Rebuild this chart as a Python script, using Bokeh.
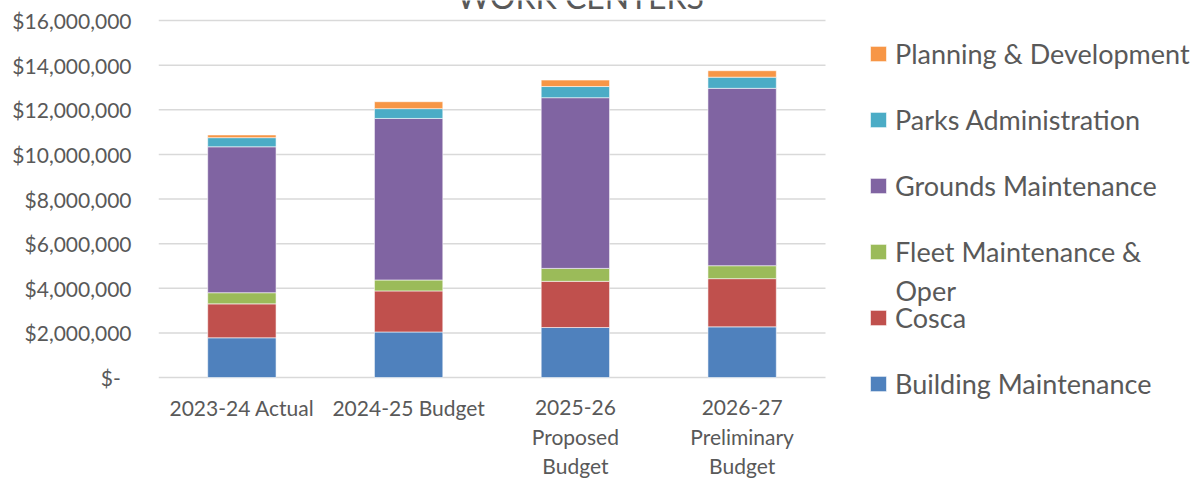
from bokeh.plotting import figure
from bokeh.models import (Range1d, FixedTicker, NumeralTickFormatter, Label,
                          Legend, LegendItem, ColumnDataSource)
from bokeh.embed import file_html
from bokeh.resources import INLINE

# ---------------- data ----------------
categories = ["2023-24 Actual", "2024-25 Budget",
              "2025-26 Proposed Budget", "2026-27 Preliminary Budget"]
category_lines = [["2023-24 Actual"], ["2024-25 Budget"],
                  ["2025-26", "Proposed", "Budget"],
                  ["2026-27", "Preliminary", "Budget"]]
series_names = ["Building Maintenance", "Cosca", "Fleet Maintenance & Oper",
                "Grounds Maintenance", "Parks Administration",
                "Planning & Development"]
building = [1780000, 2040000, 2240000, 2270000]
cosca = [1520000, 1840000, 2070000, 2160000]
fleet = [500000, 490000, 580000, 580000]
grounds = [6540000, 7240000, 7650000, 7950000]
parks = [410000, 440000, 500000, 500000]
planning = [120000, 310000, 290000, 290000]
y_ticks = [0, 2000000, 4000000, 6000000, 8000000, 10000000,
           12000000, 14000000, 16000000]
title_text = "WORK CENTERS"

# ---------------- style / layout (pixels) ----------------
colors = ["#4F81BD", "#C0504D", "#9BBB59", "#8064A2", "#4BACC6", "#F79646"]
text_color = "#595959"
grid_color = "#D9D9D9"
font = "Lato"
W, H = 1200, 478
plot_left, plot_right = 158, 825      # category area
zero_px, top_px = 377, 20             # $0 and $16M gridlines
n = len(categories)
y_max = y_ticks[-1]
upp = y_max / (zero_px - top_px)      # data units per pixel (y)
xpp = n / (plot_right - plot_left)    # data units per pixel (x)


def px_x(px):
    return (px - plot_left) * xpp


def px_y(py):
    return (zero_px - py) * upp


x_pos = [i + 0.5 for i in range(n)]
keys = ["b", "c", "f", "g", "pa", "pl"]
src = ColumnDataSource(dict(x=x_pos, b=building, c=cosca,
                            f=fleet, g=grounds, pa=parks, pl=planning))

p = figure(width=W, height=H, output_backend="svg", toolbar_location=None,
           x_range=Range1d(0, px_x(W)), y_range=Range1d(px_y(H), px_y(0)),
           x_axis_location=None,
           min_border_left=plot_left, min_border_right=0,
           min_border_top=0, min_border_bottom=0,
           outline_line_color=None, background_fill_color="white",
           border_fill_color="white")

p.xgrid.grid_line_color = None
p.ygrid.grid_line_color = None

# horizontal gridlines across the category area only
p.segment(x0=[0] * len(y_ticks), x1=[n] * len(y_ticks), y0=y_ticks,
          y1=y_ticks, line_color=grid_color, line_width=1.5)

renderers = p.vbar_stack(keys, x="x", width=0.41, source=src, color=colors,
                         line_color="white", line_width=0.8, line_alpha=0.7)

ya = p.yaxis[0]
ya.ticker = FixedTicker(ticks=y_ticks)
ya.formatter = NumeralTickFormatter(format="$0,0")
ya.major_label_overrides = {0: "$-\u00a0\u00a0"}
ya.axis_line_color = None
ya.major_tick_line_color = None
ya.minor_tick_line_color = None
ya.major_tick_out = 0
ya.major_tick_in = 0
ya.major_label_standoff = 27
ya.major_label_text_font = font
ya.major_label_text_font_size = "21px"
ya.major_label_text_color = text_color

# category labels under the bars
first_line_px, line_pitch_px = 406.5, 29.4
for i, lines in enumerate(category_lines):
    for j, t in enumerate(lines):
        p.add_layout(Label(x=x_pos[i], y=px_y(first_line_px + j * line_pitch_px),
                           text=t, text_align="center", text_baseline="middle",
                           text_font=font, text_font_size="21px",
                           text_color=text_color))

# title (partially cut off at the top)
p.add_layout(Label(x=px_x(580), y=px_y(-4), text=title_text,
                   text_align="center", text_baseline="alphabetic",
                   text_font=font, text_font_size="32px",
                   text_color=text_color))

# legend
items = [LegendItem(label=("Fleet Maintenance &" if name.startswith("Fleet") else name),
                    renderers=[r])
         for name, r in zip(series_names, renderers)][::-1]
label_h = 33
spacing = 33
legend_h = 6 * label_h + 5 * spacing
legend_top = 54 - label_h / 2
legend = Legend(items=items,
                location=(868 - plot_left, int(round(H - (legend_top + legend_h)))),
                orientation="vertical", padding=0, margin=0,
                border_line_color=None, background_fill_alpha=0,
                glyph_width=20, glyph_height=19, label_standoff=7,
                label_height=label_h, spacing=spacing,
                label_text_font=font, label_text_font_size="27px",
                label_text_color=text_color, label_text_baseline="middle")
p.add_layout(legend, "center")

p.add_layout(Label(x=px_x(895), y=px_y(290), text="Oper",
                   text_align="left", text_baseline="middle",
                   text_font=font, text_font_size="27px",
                   text_color=text_color))

open("out.html", "w").write(file_html(p, INLINE))
